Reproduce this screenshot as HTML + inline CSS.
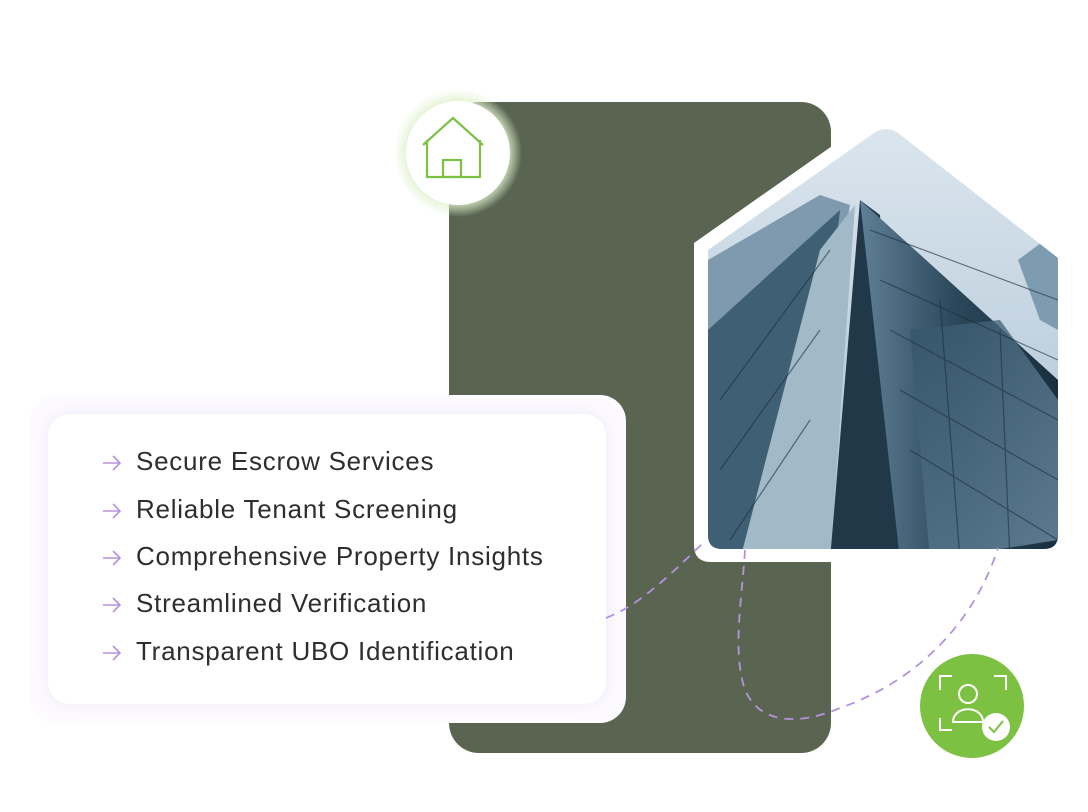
<!DOCTYPE html>
<html><head><meta charset="utf-8"><style>
html,body{margin:0;padding:0;background:#fff;}
body{width:1088px;height:812px;position:relative;overflow:hidden;font-family:"Liberation Sans",sans-serif;}
.green{position:absolute;left:449px;top:102px;width:382px;height:651px;background:#5a6551;border-radius:30px;}
.cardo{position:absolute;left:30px;top:395px;width:596px;height:328px;background:#fdfbff;border-radius:26px;}
.card{position:absolute;left:48px;top:414px;width:558px;height:290px;background:#fff;border-radius:22px;box-shadow:0 0 18px rgba(200,180,240,0.25);}
.item{position:absolute;left:136px;font-size:26px;color:#2e2e30;letter-spacing:0.75px;}
.arr{position:absolute;left:102px;width:20px;height:16px;}
svg{position:absolute;left:0;top:0;}
</style></head><body>
<div class="green"></div>
<div class="cardo"></div>
<div class="card"></div>
<svg width="1088" height="812" viewBox="0 0 1088 812">
<defs>
<clipPath id="hc"><path d="M708,250 L874,133 Q886,125 898,133 L1058,258 L1058,535 Q1058,549 1044,549 L722,549 Q708,549 708,535 Z"/></clipPath>
<linearGradient id="sky" x1="0" y1="0" x2="0" y2="1"><stop offset="0" stop-color="#dbe6ef"/><stop offset="1" stop-color="#aac0d0"/></linearGradient>
<linearGradient id="b1" x1="0" y1="0" x2="1" y2="0"><stop offset="0" stop-color="#5f7f96"/><stop offset="0.5" stop-color="#2a4659"/><stop offset="1" stop-color="#1a2f3e"/></linearGradient>
<linearGradient id="b2" x1="0" y1="0" x2="1" y2="1"><stop offset="0" stop-color="#33536a"/><stop offset="1" stop-color="#6d8ea5"/></linearGradient>
<radialGradient id="glow"><stop offset="0.75" stop-color="#dff0cc"/><stop offset="1" stop-color="#dff0cc" stop-opacity="0"/></radialGradient>
</defs>
<path d="M694,243 L872,118 Q886,108 900,118 L1072,250 L1072,545 Q1072,562 1055,562 L711,562 Q694,562 694,545 Z" fill="#fff"/>
<g clip-path="url(#hc)">
<rect x="700" y="120" width="370" height="440" fill="url(#sky)"/>
<polygon points="708,260 820,195 850,205 790,560 708,560" fill="#7f9aae"/>
<polygon points="708,330 840,210 800,560 708,560" fill="#3f5f75"/>
<polygon points="740,560 820,250 855,205 830,560" fill="#a2b9c8"/>
<polygon points="830,560 860,200 880,215 900,560" fill="#213848"/>
<polygon points="860,200 1058,380 1058,560 900,560" fill="url(#b1)"/>
<polygon points="910,330 1000,320 1058,400 1058,540 930,560" fill="url(#b2)" opacity="0.8"/>
<polygon points="1018,260 1045,240 1058,250 1058,330 1040,320" fill="#7e9cb0"/>
<g stroke="#1b2e3b" stroke-width="1.2" opacity="0.6">
<line x1="870" y1="230" x2="1058" y2="300"/><line x1="880" y1="280" x2="1058" y2="360"/>
<line x1="890" y1="330" x2="1058" y2="420"/><line x1="900" y1="390" x2="1058" y2="480"/>
<line x1="910" y1="450" x2="1058" y2="540"/><line x1="940" y1="300" x2="960" y2="560"/>
<line x1="1000" y1="330" x2="1010" y2="560"/><line x1="720" y1="400" x2="830" y2="250"/>
<line x1="720" y1="470" x2="820" y2="330"/><line x1="730" y1="540" x2="810" y2="420"/>
</g>
</g>
<g fill="none" stroke="#b592dd" stroke-width="1.8" stroke-dasharray="9 7">
<path d="M606,618 C640,605 670,575 706,540"/>
<path d="M745,550 C742,600 732,650 745,690 C760,725 800,725 840,708 C920,680 975,620 998,548"/>
</g>
<circle cx="458" cy="153" r="64" fill="url(#glow)"/>
<circle cx="458" cy="153" r="52" fill="#fff"/>
<g fill="none" stroke="#7cc143" stroke-width="2.2">
<polyline points="423,145 453,118 483,145"/>
<polyline points="427,140 427,177 480,177 480,140"/>
<rect x="443" y="160" width="18" height="17"/>
</g>
<circle cx="972" cy="706" r="52" fill="#7dc142"/>
<g fill="none" stroke="#fff" stroke-width="2">
<polyline points="940,690 940,676 952,676"/><polyline points="994,676 1006,676 1006,690"/>
<polyline points="940,718 940,730 952,730"/>
<circle cx="968" cy="694" r="9"/>
<path d="M953,722 C953,705 983,705 983,722 Z"/>
</g>
<circle cx="996" cy="727" r="14" fill="#fff"/>
<polyline points="989,727 994,732 1003,721" fill="none" stroke="#7dc142" stroke-width="2"/>
</svg>
<svg class="arr" style="top:455px" viewBox="0 0 20 16"><path d="M1,8H18M11,1L18,8L11,15" fill="none" stroke="#b592dd" stroke-width="1.6"/></svg>
<svg class="arr" style="top:503px" viewBox="0 0 20 16"><path d="M1,8H18M11,1L18,8L11,15" fill="none" stroke="#b592dd" stroke-width="1.6"/></svg>
<svg class="arr" style="top:550px" viewBox="0 0 20 16"><path d="M1,8H18M11,1L18,8L11,15" fill="none" stroke="#b592dd" stroke-width="1.6"/></svg>
<svg class="arr" style="top:597px" viewBox="0 0 20 16"><path d="M1,8H18M11,1L18,8L11,15" fill="none" stroke="#b592dd" stroke-width="1.6"/></svg>
<svg class="arr" style="top:645px" viewBox="0 0 20 16"><path d="M1,8H18M11,1L18,8L11,15" fill="none" stroke="#b592dd" stroke-width="1.6"/></svg>
<div class="item" style="top:446px">Secure Escrow Services</div>
<div class="item" style="top:494px">Reliable Tenant Screening</div>
<div class="item" style="top:541px">Comprehensive Property Insights</div>
<div class="item" style="top:588px">Streamlined Verification</div>
<div class="item" style="top:636px">Transparent UBO Identification</div>
</body></html>
